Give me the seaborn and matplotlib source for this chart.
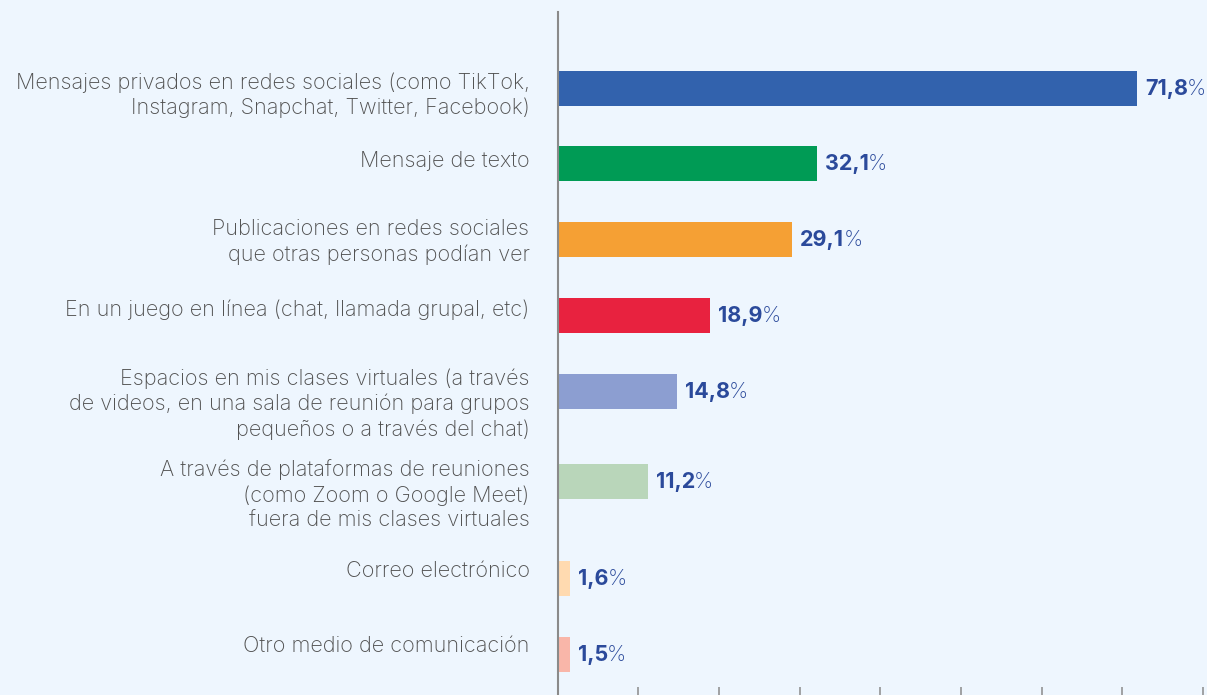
import numpy as np
import pandas as pd
import matplotlib
matplotlib.use("Agg")
import matplotlib.pyplot as plt
import seaborn as sns

# -------------- Data ------------------

categorias = [
    "Mensajes privados en redes sociales (como TikTok,\nInstagram, Snapchat, Twitter, Facebook)",
    "Mensaje de texto",
    "Publicaciones en redes sociales\nque otras personas podían ver",
    "En un juego en línea (chat, llamada grupal, etc)",
    "Espacios en mis clases virtuales (a través\nde videos, en una sala de reunión para grupos\npequeños o a través del chat)",
    "A través de plataformas de reuniones\n(como Zoom o Google Meet)\nfuera de mis clases virtuales",
    "Correo electrónico",
    "Otro medio de comunicación",
]
porcentajes = [71.8, 32.1, 29.1, 18.9, 14.8, 11.2, 1.6, 1.5]

# -------------- Layout / style ------------------

# vertical positions (pixels from top) of the bars and of the labels
pos_barras = [88.3, 163.3, 239.5, 315.3, 391.3, 481.3, 578.5, 654.5]
pos_etiquetas = [95, 161, 242, 310, 404, 495, 571, 646]
alto_barra = 34.7

colores = ["#3262AD", "#009B55", "#F5A034", "#E8223F",
           "#8C9ED1", "#B9D6BA", "#FFDAB0", "#F9B6A9"]
fondo = "#EEF6FE"
gris_texto = "#505050"
azul_valor = "#2B4A9B"

W, H = 1207, 695
fig = plt.figure(figsize=(W / 100, H / 100), dpi=100, facecolor=fondo)
ax = fig.add_axes([557.5 / W, 0, 1 - 557.5 / W, 1 - 12 / H])
ax.set_facecolor(fondo)

df = pd.DataFrame({"cat": categorias, "pct": porcentajes, "pos": pos_barras})

gap = np.min(np.diff(pos_barras))
sns.barplot(data=df, x="pct", y="pos", hue="cat", palette=colores,
            orient="y", native_scale=True, width=alto_barra / gap,
            dodge=False, legend=False, saturation=1, ax=ax)

ax.set_xlim(0, (W - 557.5) / 8.07)
ax.set_ylim(H, 12)

# -------------- Axes styling ------------------

for s in ["top", "right", "bottom"]:
    ax.spines[s].set_visible(False)
ax.spines["left"].set_color("#8A8A8A")
ax.spines["left"].set_linewidth(1.5)

ax.set_xticks(np.arange(0, 81, 10))
ax.set_xticklabels([])
ax.set_yticks([])
ax.tick_params(axis="x", direction="in", length=5.5, width=1.1, color="#8A8A8A")
ax.set_xlabel("")
ax.set_ylabel("")

fuente = "Inter"

# category labels
for cat, y in zip(categorias, pos_etiquetas):
    ax.annotate(cat, xy=(0, y), xytext=(-28, 0), textcoords="offset pixels",
                ha="right", va="center", multialignment="right",
                fontsize=15.6, color=gris_texto, family=fuente,
                fontweight="light", linespacing=1.3, annotation_clip=False)

# value labels
for val, y in zip(porcentajes, pos_barras):
    num = f"{val:.1f}".replace(".", ",")
    t = ax.annotate(num, xy=(val, y), xytext=(8, -1), textcoords="offset pixels",
                    ha="left", va="center", fontsize=15.5, fontweight="bold",
                    color=azul_valor, family=fuente, annotation_clip=False)
    ax.annotate("%", xy=(1, 0.5), xycoords=t, xytext=(-1, 0),
                textcoords="offset pixels", ha="left", va="center",
                fontsize=15.5, color=azul_valor, family=fuente,
                fontweight="light", annotation_clip=False)

fig.savefig("out.png", dpi=100, facecolor=fondo)
